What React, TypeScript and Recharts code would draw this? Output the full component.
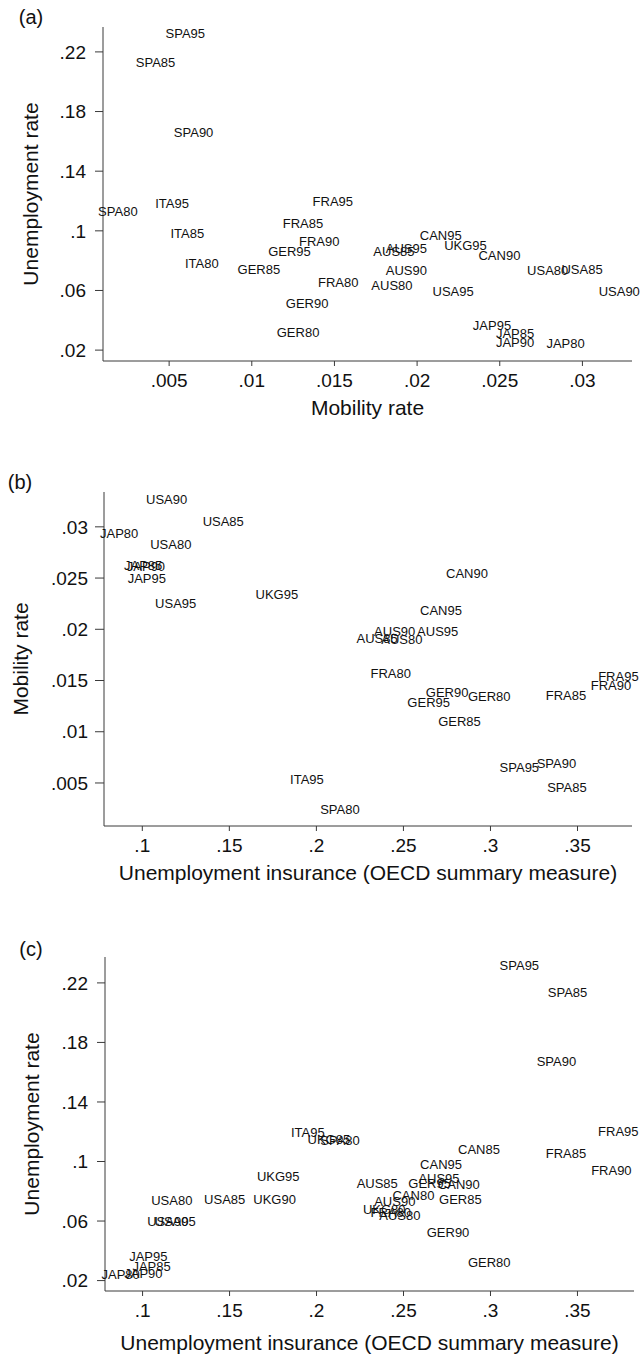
import React from 'react';
import { ScatterChart, Scatter, XAxis, YAxis, Label } from 'recharts';

const FONT = '"Liberation Sans", Arial, Helvetica, sans-serif';
const INK = '#111';
const AXIS = '#3a3a3a';

// ---------- Panel (a): mobility rate vs unemployment rate ----------
const aNames = ['SPA95', 'SPA85', 'SPA90', 'SPA80', 'ITA95', 'ITA85', 'ITA80', 'FRA95', 'FRA85', 'FRA90', 'FRA80', 'GER95', 'GER85', 'GER90', 'GER80', 'CAN95', 'CAN90', 'AUS95', 'AUS85', 'AUS90', 'AUS80', 'UKG95', 'USA80', 'USA85', 'USA95', 'USA90', 'JAP95', 'JAP85', 'JAP90', 'JAP80'];
const aMobility = [0.00598, 0.00418, 0.00648, 0.0019, 0.00518, 0.0061, 0.00698, 0.0149, 0.0131, 0.01408, 0.01523, 0.01228, 0.01043, 0.01335, 0.0128, 0.02143, 0.02498, 0.01935, 0.0186, 0.01935, 0.01848, 0.02293, 0.0279, 0.02998, 0.02218, 0.03223, 0.02453, 0.02593, 0.02593, 0.02898];
const aUnemp = [0.2322, 0.2133, 0.166, 0.1129, 0.1184, 0.0984, 0.0782, 0.1196, 0.1049, 0.0929, 0.0656, 0.086, 0.0742, 0.0511, 0.0322, 0.0967, 0.0838, 0.0882, 0.086, 0.0738, 0.0633, 0.09, 0.0738, 0.074, 0.0593, 0.0593, 0.0367, 0.0311, 0.0251, 0.0244];
const aXTicks = [0.005, 0.01, 0.015, 0.02, 0.025, 0.03];
const aYTicks = [0.02, 0.06, 0.1, 0.14, 0.18, 0.22];

// ---------- Panel (b): UI vs mobility rate ----------
const bNames = ['USA90', 'USA85', 'JAP80', 'USA80', 'JAP85', 'JAP90', 'JAP95', 'USA95', 'UKG95', 'CAN90', 'CAN95', 'AUS90', 'AUS95', 'AUS85', 'AUS80', 'FRA80', 'GER90', 'GER80', 'GER95', 'FRA85', 'FRA95', 'FRA90', 'GER85', 'SPA95', 'SPA90', 'SPA85', 'ITA95', 'SPA80'];
const bInsurance = [0.114, 0.1465, 0.0867, 0.1164, 0.1005, 0.1021, 0.1026, 0.1192, 0.1773, 0.2865, 0.2716, 0.245, 0.2697, 0.2349, 0.2491, 0.2427, 0.2751, 0.2993, 0.2645, 0.3434, 0.3735, 0.3692, 0.2822, 0.3166, 0.3379, 0.3439, 0.1946, 0.2135];
const bMobility = [0.03264, 0.0305, 0.0294, 0.02828, 0.0262, 0.0261, 0.02497, 0.02257, 0.02338, 0.02546, 0.02189, 0.01978, 0.01978, 0.01912, 0.019, 0.01575, 0.01386, 0.01344, 0.01289, 0.01354, 0.0154, 0.01451, 0.011, 0.00649, 0.00688, 0.0046, 0.00535, 0.0024];
const bXTicks = [0.1, 0.15, 0.2, 0.25, 0.3, 0.35];
const bYTicks = [0.005, 0.01, 0.015, 0.02, 0.025, 0.03];

// ---------- Panel (c): UI vs unemployment rate ----------
const cNames = ['SPA95', 'SPA85', 'SPA90', 'FRA95', 'FRA85', 'FRA90', 'CAN85', 'CAN95', 'AUS95', 'GER95', 'CAN90', 'AUS85', 'CAN80', 'GER85', 'AUS90', 'UKG80', 'FRA80', 'AUS80', 'GER90', 'GER80', 'ITA95', 'UKG85', 'SPA80', 'UKG95', 'USA80', 'USA85', 'UKG90', 'USA90', 'USA95', 'JAP95', 'JAP85', 'JAP90', 'JAP80'];
const cInsurance = [0.3166, 0.3443, 0.3379, 0.3735, 0.3434, 0.3695, 0.2934, 0.2716, 0.2704, 0.265, 0.2818, 0.2349, 0.2557, 0.2827, 0.245, 0.2389, 0.2427, 0.2479, 0.2756, 0.2993, 0.195, 0.2071, 0.2135, 0.178, 0.1168, 0.1472, 0.1759, 0.1145, 0.1187, 0.1033, 0.1052, 0.1005, 0.0874];
const cUnemp = [0.2319, 0.214, 0.167, 0.12, 0.1055, 0.0943, 0.1082, 0.0981, 0.0887, 0.0854, 0.0849, 0.0854, 0.0775, 0.0746, 0.073, 0.0681, 0.0659, 0.0641, 0.0522, 0.0324, 0.1196, 0.1151, 0.1144, 0.0903, 0.0737, 0.0746, 0.0746, 0.0596, 0.0596, 0.0361, 0.0299, 0.025, 0.0243];
const cXTicks = [0.1, 0.15, 0.2, 0.25, 0.3, 0.35];
const cYTicks = [0.02, 0.06, 0.1, 0.14, 0.18, 0.22];

const toRows = (names: string[], xs: number[], ys: number[]) =>
  names.map((name, i) => ({ name, x: xs[i], y: ys[i] }));

const fmt = (v: number) => String(v).replace(/^0\./, '.');

const renderPointLabel = (props: any) => {
  const { cx, cy, payload } = props;
  if (cx == null || cy == null) return <g />;
  return (
    <text x={cx} y={cy} dy="0.36em" textAnchor="middle" fontSize={13} fontFamily={FONT} fill={INK}>
      {payload.name}
    </text>
  );
};

const xTitle = (text: string, y: number) => (props: any) => {
  const vb = props.viewBox || {};
  const cx = (vb.x || 0) + (vb.width || 0) / 2;
  return (
    <text x={cx} y={y} dy="0.36em" textAnchor="middle" fontSize={21} fontFamily={FONT} fill={INK}>
      {text}
    </text>
  );
};

const yTitle = (text: string, x: number) => (props: any) => {
  const vb = props.viewBox || {};
  const cy = (vb.y || 0) + (vb.height || 0) / 2;
  return (
    <text
      x={x}
      y={cy}
      dy="0.36em"
      textAnchor="middle"
      transform={`rotate(-90 ${x} ${cy})`}
      fontSize={21}
      fontFamily={FONT}
      fill={INK}
    >
      {text}
    </text>
  );
};

type PanelProps = {
  top: number;
  height: number;
  margin: { top: number; right: number; bottom: number; left: number };
  yWidth: number;
  xHeight: number;
  rows: { name: string; x: number; y: number }[];
  xDomain: [number, number];
  yDomain: [number, number];
  xTicks: number[];
  yTicks: number[];
  xLabel: string;
  xLabelY: number;
  yLabel: string;
  yLabelX: number;
  yTickSize: number;
  yTickMargin: number;
  letter: string;
  letterX: number;
  letterY: number;
};

const tickStyle = { fontSize: 19, fontFamily: FONT, fill: INK };

const Panel = (p: PanelProps) => (
  <div style={{ position: 'absolute', left: 0, top: p.top, width: 641, height: p.height }}>
    <div
      style={{
        position: 'absolute',
        left: p.letterX,
        top: p.letterY,
        transform: 'translate(-50%, -50%)',
        fontFamily: FONT,
        fontSize: 20,
        lineHeight: '20px',
        color: INK,
        whiteSpace: 'nowrap',
      }}
    >
      {p.letter}
    </div>
    <ScatterChart width={641} height={p.height} margin={p.margin}>
      <XAxis
        type="number"
        dataKey="x"
        domain={p.xDomain}
        ticks={p.xTicks}
        tickFormatter={fmt}
        height={p.xHeight}
        interval={0}
        axisLine={{ stroke: AXIS, strokeWidth: 1 }}
        tickLine={{ stroke: AXIS, strokeWidth: 1 }}
        tickSize={5}
        tickMargin={8}
        tick={tickStyle}
      >
        <Label content={xTitle(p.xLabel, p.xLabelY)} />
      </XAxis>
      <YAxis
        type="number"
        dataKey="y"
        domain={p.yDomain}
        ticks={p.yTicks}
        tickFormatter={fmt}
        width={p.yWidth}
        interval={0}
        axisLine={{ stroke: AXIS, strokeWidth: 1 }}
        tickLine={{ stroke: AXIS, strokeWidth: 1 }}
        tickSize={p.yTickSize}
        tickMargin={p.yTickMargin}
        tick={tickStyle}
      >
        <Label content={yTitle(p.yLabel, p.yLabelX)} />
      </YAxis>
      <Scatter data={p.rows} shape={renderPointLabel} isAnimationActive={false} />
    </ScatterChart>
  </div>
);

export default function App() {
  return (
    <div style={{ position: 'absolute', left: 0, top: 0, width: 641, height: 1364, background: '#fff' }}>
      <Panel
        top={0}
        height={430}
        margin={{ top: 27, right: 9, bottom: 0, left: 0 }}
        yWidth={103}
        xHeight={69}
        rows={toRows(aNames, aMobility, aUnemp)}
        xDomain={[0.001, 0.033]}
        yDomain={[0.0127, 0.2367]}
        xTicks={aXTicks}
        yTicks={aYTicks}
        xLabel="Mobility rate"
        xLabelY={407}
        yLabel="Unemployment rate"
        yLabelX={30}
        yTickSize={8}
        yTickMargin={9}
        letter="(a)"
        letterX={31}
        letterY={17}
      />
      <Panel
        top={440}
        height={460}
        margin={{ top: 52, right: 9, bottom: 0, left: 0 }}
        yWidth={104}
        xHeight={74}
        rows={toRows(bNames, bInsurance, bMobility)}
        xDomain={[0.078, 0.3813]}
        yDomain={[0.0008, 0.0334]}
        xTicks={bXTicks}
        yTicks={bYTicks}
        xLabel="Unemployment insurance (OECD summary measure)"
        xLabelY={432}
        yLabel="Mobility rate"
        yLabelX={20}
        yTickSize={9}
        yTickMargin={7}
        letter="(b)"
        letterX={20}
        letterY={42}
      />
      <Panel
        top={900}
        height={464}
        margin={{ top: 57, right: 7, bottom: 0, left: 0 }}
        yWidth={105}
        xHeight={73}
        rows={toRows(cNames, cInsurance, cUnemp)}
        xDomain={[0.0784, 0.3825]}
        yDomain={[0.013, 0.2374]}
        xTicks={cXTicks}
        yTicks={cYTicks}
        xLabel="Unemployment insurance (OECD summary measure)"
        xLabelY={442}
        yLabel="Unemployment rate"
        yLabelX={31}
        yTickSize={8}
        yTickMargin={9}
        letter="(c)"
        letterX={31}
        letterY={49}
      />
    </div>
  );
}
